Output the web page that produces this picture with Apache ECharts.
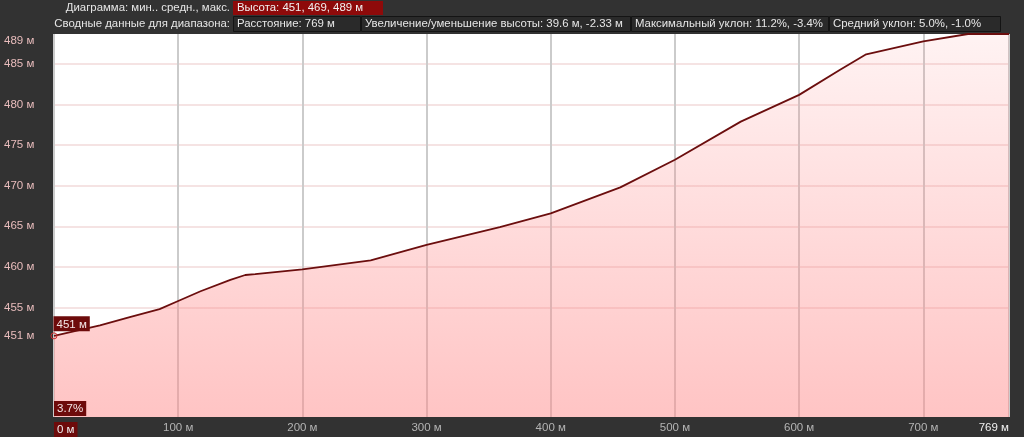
<!DOCTYPE html>
<html><head><meta charset="utf-8">
<script src="https://cdn.jsdelivr.net/npm/echarts@6/dist/echarts.min.js"></script>
<style>html,body{margin:0;padding:0;background:#323232;overflow:hidden}#c{width:1024px;height:437px}</style>
</head><body><div id="c"></div>
<script>
// distance (m) and elevation (m)
const distances  = [0, 37, 61, 85, 100, 118, 142, 154, 162, 200, 255, 300, 359, 400, 456, 500, 553, 600, 633, 654, 700, 736, 769];
const elevations = [451.5, 452.8, 453.8, 454.8, 455.8, 457.0, 458.4, 459.0, 459.1, 459.7, 460.8, 462.7, 464.9, 466.6, 469.8, 473.2, 477.9, 481.2, 484.3, 486.2, 487.8, 488.7, 488.7];
const yGridValues  = [455, 460, 465, 470, 475, 480, 485];
const yLabelValues = [451.5, 455, 460, 465, 470, 475, 480, 485, 487.9];
const yLabelTexts  = ['451 м', '455 м', '460 м', '465 м', '470 м', '475 м', '480 м', '485 м', '489 м'];
const xLabelValues = [0, 100, 200, 300, 400, 500, 600, 700, 769];
const xLabelTexts  = ['0 м', '100 м', '200 м', '300 м', '400 м', '500 м', '600 м', '700 м', '769 м'];
const headerRow1Label = 'Диаграмма: мин.. средн., макс.';
const headerRow1Value = 'Высота: 451, 469, 489 м';
const headerRow2Label = 'Сводные данные для диапазона:';
const headerRow2Boxes = ['Расстояние: 769 м', 'Увеличение/уменьшение высоты: 39.6 м, -2.33 м', 'Максимальный уклон: 11.2%, -3.4%', 'Средний уклон: 5.0%, -1.0%'];
const startLabel = '451 м';
const slopeLabel = '3.7%';
const yMin = 441.5, yMax = 488.7, xMax = 769;

const FONT = 'Liberation Sans, Arial, sans-serif';
const HF = '11.4px ' + FONT;
const chart = echarts.init(document.getElementById('c'));
const seriesData = distances.map((d, i) => [d, elevations[i]]);

// header layout (box positions)
const boxX = [233, 361, 631, 829, 1001];
const graphics = [
  {type:'text', style:{x:230, y:8, text:headerRow1Label, align:'right', verticalAlign:'middle', fill:'#e6e6e6', font:HF}},
  {type:'rect', shape:{x:233, y:1, width:150, height:14}, style:{fill:'#8e0a0a'}},
  {type:'text', style:{x:237, y:8, text:headerRow1Value, align:'left', verticalAlign:'middle', fill:'#f2f2f2', font:HF}},
  {type:'text', style:{x:230, y:23.5, text:headerRow2Label, align:'right', verticalAlign:'middle', fill:'#e6e6e6', font:HF}}
];
headerRow2Boxes.forEach((t, i) => {
  graphics.push({type:'rect', shape:{x:boxX[i] + 0.5, y:16.5, width:boxX[i+1] - boxX[i] - 1, height:15}, style:{fill:'#2a2a2a', stroke:'#141414', lineWidth:1}});
  graphics.push({type:'text', style:{x:boxX[i] + 4, y:23.5, text:t, align:'left', verticalAlign:'middle', fill:'#e6e6e6', font:HF}});
});

chart.setOption({
  backgroundColor: '#323232',
  animation: false,
  grid: {left:54, right:15, top:34, bottom:17.5, show:true, backgroundColor:'#ffffff', borderWidth:0},
  xAxis: {
    type:'value', min:0, max:xMax, interval:100,
    axisLine:{show:false}, axisTick:{show:false},
    splitLine:{show:true, lineStyle:{color:'#cbcbcb', width:2}},
    axisLabel:{
      customValues: xLabelValues, margin:5, fontSize:11.5, fontFamily:FONT, color:'#b4b4b4',
      alignMinLabel:'left', alignMaxLabel:'right', showMinLabel:true, showMaxLabel:true,
      formatter: v => {
        const i = xLabelValues.indexOf(v);
        const t = i >= 0 ? xLabelTexts[i] : v + ' м';
        if (i === 0) return '{a|' + t + '}';
        if (i === xLabelValues.length - 1) return '{b|' + t + '}';
        return t;
      },
      rich:{
        a:{backgroundColor:'#6d0b0b', color:'#f0f0f0', padding:[2,3,1,3], fontSize:11.5, fontFamily:FONT},
        b:{color:'#f0f0f0', fontSize:11.5, fontFamily:FONT}
      }
    }
  },
  yAxis: {
    type:'value', min:yMin, max:yMax,
    axisLine:{show:false},
    axisTick:{show:false, customValues:yGridValues},
    splitLine:{show:true, lineStyle:{color:'#f2dada', width:1.5}},
    axisLabel:{
      customValues: yLabelValues, align:'left', margin:50, fontSize:11.5, fontFamily:FONT, color:'#e8bcbc',
      formatter: v => { const i = yLabelValues.indexOf(v); return i >= 0 ? yLabelTexts[i] : v + ' м'; }
    }
  },
  graphic: graphics,
  series: [{
    type:'line', data:seriesData, symbol:'none', smooth:false,
    lineStyle:{color:'#6b0e0e', width:1.8},
    areaStyle:{color:new echarts.graphic.LinearGradient(0,0,0,1,[
      {offset:0, color:'rgba(255,138,138,0.15)'},
      {offset:1, color:'rgba(255,138,138,0.72)'}
    ])},
    markPoint:{
      silent:true, animation:false,
      data:[
        {coord:[distances[0], elevations[0]], symbol:'circle', symbolSize:6,
         itemStyle:{color:'rgba(0,0,0,0)', borderColor:'#d03030', borderWidth:1},
         label:{show:true, formatter:startLabel, position:[3,-16], align:'left', verticalAlign:'top',
                backgroundColor:'#6d0b0b', color:'#f4e6e6', padding:[2,3,1,3], fontSize:11.5, fontFamily:FONT}},
        {coord:[distances[0], yMin], symbol:'circle', symbolSize:0,
         label:{show:true, formatter:slopeLabel, position:[0,-16], align:'left', verticalAlign:'top',
                backgroundColor:'#6d0b0b', color:'#f4e6e6', padding:[2,3,1,3], fontSize:11.5, fontFamily:FONT}}
      ]
    }
  }]
});
</script></body></html>
